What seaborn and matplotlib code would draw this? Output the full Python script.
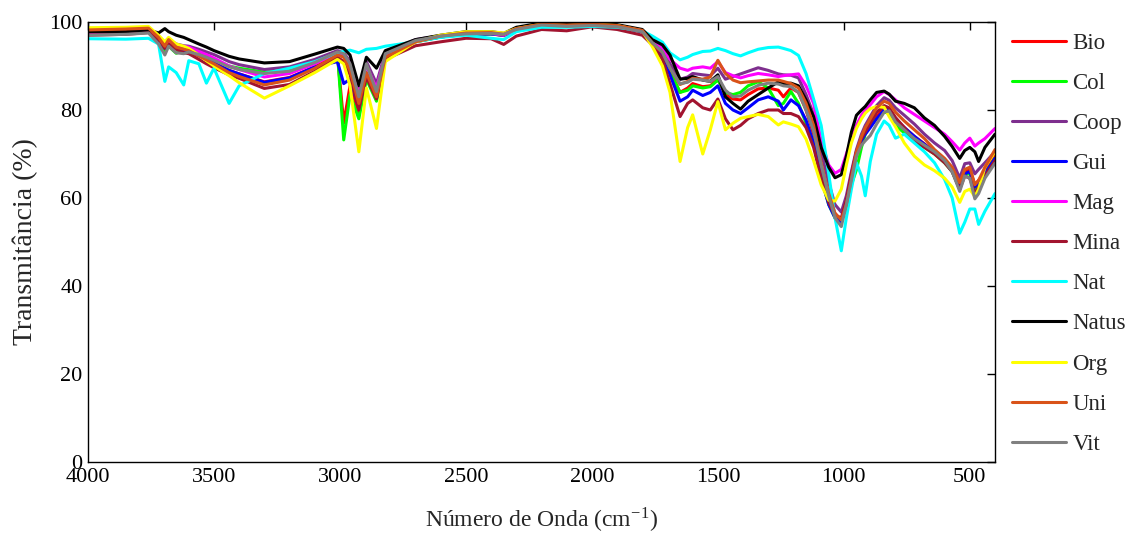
import pandas as pd
import numpy as np
import seaborn as sns
import matplotlib
matplotlib.use("Agg")
import matplotlib.pyplot as plt

# numero de onda (cm-1), comum a todas as amostras
numero_onda = [4000, 3850, 3760, 3720, 3695, 3680, 3650, 3620, 3600, 3560,
               3530, 3500, 3440, 3400, 3300, 3200, 3100, 3010, 2985, 2960,
               2925, 2895, 2855, 2820, 2700, 2600, 2500, 2400, 2350, 2300,
               2200, 2100, 2000, 1900, 1800, 1760, 1720, 1690, 1650, 1620,
               1600, 1560, 1530, 1500, 1470, 1440, 1410, 1380, 1340, 1300,
               1260, 1240, 1210, 1180, 1150, 1120, 1090, 1060, 1035, 1010,
               990, 970, 950, 930, 915, 895, 870, 840, 820, 795,
               760, 720, 680, 640, 600, 570, 540, 520, 500, 480,
               465, 440, 400]

bio = [97.6, 97.6, 98.0, 96.3, 94.0, 95.5, 94.2, 93.8, 93.6, 92.5,
       91.6, 90.7, 89.0, 88.2, 86.4, 87.4, 89.8, 92.5, 77.0, 85.5,
       79.5, 88.0, 82.5, 92.0, 95.5, 96.6, 97.2, 97.3, 96.9, 98.2,
       99.2, 99.0, 99.2, 98.9, 97.8, 95.0, 92.5, 88.5, 84.0, 85.0,
       86.0, 85.3, 85.5, 87.0, 83.5, 82.5, 82.3, 83.5, 84.8, 85.0,
       84.5, 83.0, 85.0, 84.0, 80.0, 74.5, 66.5, 60.0, 56.5, 55.0,
       59.0, 65.0, 70.5, 73.5, 75.0, 76.5, 78.5, 80.5, 80.3, 78.0,
       76.0, 74.0, 72.3, 70.5, 68.5, 66.5, 63.0, 66.0, 66.5, 63.0,
       64.0, 66.0, 69.5]

col = [97.6, 97.6, 98.0, 95.8, 93.5, 94.5, 92.9, 93.5, 93.8, 93.0,
       92.3, 91.5, 90.0, 89.5, 88.6, 89.0, 90.8, 93.0, 73.2, 83.5,
       78.0, 87.0, 82.0, 92.0, 95.5, 96.6, 97.2, 97.3, 97.0, 98.2,
       99.2, 99.0, 99.2, 98.9, 97.8, 95.0, 92.8, 89.0, 84.0, 84.5,
       85.5, 85.0, 85.3, 86.8, 84.0, 83.5, 84.0, 85.5, 86.4, 85.0,
       81.0, 81.5, 84.2, 81.5, 77.0, 72.5, 64.5, 58.5, 55.5, 55.0,
       58.0, 63.0, 66.4, 71.5, 74.5, 76.5, 78.0, 79.5, 79.3, 76.5,
       74.8, 73.0, 71.5, 70.0, 68.0, 66.0, 62.0, 65.5, 65.5, 61.5,
       63.0, 65.5, 69.0]

coop = [97.8, 97.8, 98.2, 96.8, 94.5, 96.0, 95.0, 94.6, 94.5, 93.8,
        93.2, 92.6, 91.0, 90.3, 89.2, 89.8, 91.5, 93.5, 93.0, 91.0,
        84.5, 91.0, 86.0, 93.0, 96.0, 96.9, 97.5, 97.5, 97.2, 98.5,
        99.5, 99.2, 99.4, 99.1, 98.1, 95.5, 93.5, 90.5, 87.0, 87.5,
        88.3, 88.0, 87.8, 89.5, 87.0, 87.6, 88.2, 88.8, 89.6, 89.0,
        88.2, 88.0, 87.9, 87.3, 83.5, 79.0, 70.5, 63.5, 58.5, 56.8,
        60.5, 66.0, 71.0, 74.5, 76.5, 78.5, 81.0, 82.8, 82.2, 80.5,
        78.8, 76.8, 74.5, 72.5, 70.8, 68.5, 64.5, 67.8, 68.0, 65.5,
        66.5, 68.0, 70.5]

gui = [97.6, 97.6, 98.0, 96.0, 94.0, 95.0, 94.0, 93.5, 93.3, 92.3,
       91.5, 90.6, 89.0, 88.2, 86.3, 87.3, 89.8, 91.0, 86.0, 87.0,
       80.5, 88.5, 83.0, 92.3, 95.6, 96.6, 97.2, 97.3, 97.0, 98.2,
       99.2, 99.0, 99.2, 98.9, 97.8, 95.0, 92.5, 88.0, 82.0, 83.0,
       84.5, 83.3, 84.0, 85.5, 81.5, 80.0, 79.2, 80.5, 82.3, 83.0,
       82.0, 80.0, 82.3, 81.0, 77.7, 72.5, 64.5, 58.5, 55.5, 54.5,
       58.5, 64.5, 70.0, 73.0, 74.5, 76.0, 78.0, 80.0, 80.0, 77.8,
       76.0, 74.0, 72.2, 70.3, 68.3, 66.0, 62.5, 65.5, 66.0, 62.5,
       63.5, 65.5, 69.0]

mag = [97.5, 97.6, 98.0, 96.5, 95.0, 95.8, 94.5, 94.5, 94.3, 93.3,
       92.6, 91.8, 90.0, 89.2, 87.5, 88.3, 90.5, 93.0, 92.5, 90.5,
       84.0, 90.0, 85.0, 92.5, 95.8, 96.8, 97.3, 97.4, 97.0, 98.3,
       99.3, 99.0, 99.3, 99.0, 98.0, 95.8, 94.0, 91.5, 89.5, 89.0,
       89.5, 89.8, 89.5, 91.0, 88.5, 87.8, 87.3, 87.8, 88.3, 88.0,
       87.6, 87.8, 88.0, 88.2, 85.5, 81.5, 73.0, 67.5, 65.6, 66.5,
       70.0, 73.5, 76.5, 78.8, 80.0, 81.2, 83.0, 84.2, 83.5, 82.3,
       80.5, 79.0, 77.5, 76.0, 74.5, 72.8, 70.9, 72.5, 73.6, 71.8,
       72.5, 73.5, 75.8]

mina = [97.0, 97.2, 97.6, 96.0, 94.0, 95.0, 93.8, 93.0, 92.8, 91.5,
        90.5, 89.6, 88.0, 87.2, 84.9, 85.8, 88.8, 92.0, 91.0, 88.0,
        80.0, 87.5, 82.5, 91.5, 94.6, 95.5, 96.3, 96.2, 94.9, 96.8,
        98.3, 98.0, 98.9, 98.3, 97.0, 94.8, 91.5, 86.0, 78.5, 81.5,
        82.3, 80.5, 80.0, 82.5, 78.0, 75.5, 76.5, 78.0, 79.2, 80.0,
        80.0, 79.2, 79.2, 78.5, 76.0, 71.5, 64.5, 59.0, 56.0, 55.5,
        59.5, 65.5, 70.5, 73.5, 75.0, 77.0, 79.5, 81.0, 80.5, 78.3,
        76.0, 73.0, 71.5, 70.0, 68.0, 66.0, 62.0, 65.0, 64.5, 61.0,
        62.5, 65.0, 68.5]

nat = [96.2, 96.1, 96.3, 95.0, 86.5, 89.8, 88.5, 85.7, 91.2, 90.5,
       86.1, 89.5, 81.5, 85.5, 88.3, 89.5, 91.0, 93.0, 93.3, 93.6,
       93.0, 93.8, 94.0, 94.5, 95.5, 96.5, 97.0, 96.3, 96.0, 97.8,
       98.8, 98.8, 99.0, 98.8, 98.0, 96.8, 95.4, 93.0, 91.4, 92.0,
       92.6, 93.3, 93.4, 94.0, 93.5, 92.8, 92.3, 93.0, 93.8, 94.2,
       94.3, 94.0, 93.5, 92.4, 88.3, 82.5, 76.5, 65.5, 55.5, 48.0,
       55.5, 62.0, 68.0, 65.0, 60.5, 68.3, 74.5, 77.5, 76.5, 73.6,
       74.5, 72.5, 70.5, 68.0, 64.2, 60.0, 52.0, 54.5, 57.5, 57.5,
       54.0, 57.0, 61.0]

natus = [97.8, 97.8, 98.2, 97.5, 98.5, 97.8, 97.0, 96.5, 96.0, 95.0,
         94.3, 93.5, 92.2, 91.6, 90.7, 91.0, 92.7, 94.3, 94.0, 92.5,
         85.5, 92.0, 89.5, 93.5, 96.0, 97.0, 97.8, 97.8, 97.4, 98.8,
         99.8, 99.6, 99.7, 99.4, 98.3, 96.0, 94.8, 92.5, 87.0, 87.2,
         87.6, 86.8, 86.5, 88.0, 83.0, 81.5, 80.2, 82.0, 83.5, 85.0,
         86.4, 86.0, 86.1, 85.5, 82.3, 78.5, 71.5, 67.0, 64.6, 65.3,
         69.5, 75.0, 78.8, 80.0, 80.8, 82.3, 84.0, 84.3, 83.6, 82.0,
         81.5, 80.5, 78.2, 76.5, 74.0, 71.7, 69.0, 70.8, 71.5, 70.5,
         68.3, 71.5, 74.5]

org = [98.7, 98.8, 99.0, 97.0, 95.5, 96.5, 95.0, 94.5, 94.0, 92.5,
       91.2, 90.0, 87.8, 86.2, 82.7, 85.5, 88.5, 91.5, 90.5, 85.5,
       70.5, 85.0, 75.8, 91.0, 95.5, 97.0, 97.8, 97.8, 97.5, 98.5,
       99.5, 99.2, 99.5, 99.2, 98.0, 94.4, 90.0, 84.0, 68.3, 76.0,
       78.9, 70.0, 75.5, 81.9, 75.5, 77.0, 78.1, 78.5, 79.0, 78.5,
       76.6, 77.3, 76.8, 76.2, 73.4, 68.5, 63.0, 59.5, 59.3, 62.0,
       67.5, 72.5, 75.8, 78.0, 79.3, 80.3, 80.8, 80.6, 78.5, 76.2,
       72.5, 69.5, 67.5, 66.2, 64.5, 62.5, 59.0, 61.5, 62.0, 60.3,
       62.0, 67.0, 70.5]

uni = [98.2, 98.4, 98.6, 96.5, 94.5, 96.0, 94.3, 93.8, 93.5, 92.3,
       91.4, 90.5, 88.5, 87.6, 85.7, 86.8, 89.5, 92.5, 92.0, 89.0,
       81.5, 88.5, 83.0, 92.0, 95.5, 96.8, 97.5, 97.6, 97.2, 98.5,
       99.5, 99.3, 99.5, 99.2, 98.1, 95.2, 93.0, 89.5, 85.8, 86.5,
       87.2, 87.0, 87.5, 91.3, 88.3, 86.8, 86.2, 86.4, 86.6, 86.8,
       86.8, 86.5, 86.0, 85.0, 81.5, 76.5, 68.0, 61.0, 56.5, 55.0,
       58.5, 64.5, 70.5, 74.0, 76.0, 78.0, 80.5, 82.0, 81.5, 79.5,
       77.5, 75.5, 73.5, 71.0, 69.0, 67.0, 63.5, 66.5, 67.0, 63.0,
       64.0, 67.0, 71.0]

vit = [97.0, 97.2, 97.5, 95.0, 92.5, 94.5, 93.0, 92.8, 93.2, 92.6,
       92.0, 91.3, 89.8, 89.2, 88.3, 88.8, 90.8, 93.2, 92.8, 90.5,
       83.0, 90.5, 84.2, 92.8, 95.8, 96.8, 97.3, 97.4, 97.2, 98.3,
       99.3, 99.0, 99.2, 98.9, 97.8, 95.3, 93.2, 89.5, 86.0, 86.3,
       87.0, 86.8, 86.5, 87.6, 84.5, 83.0, 83.2, 84.5, 85.6, 86.1,
       85.9, 85.5, 85.3, 84.0, 80.0, 75.2, 67.5, 60.5, 55.5, 53.5,
       58.5, 64.0, 69.5, 72.0, 73.0, 74.2, 76.8, 79.5, 79.8, 77.3,
       75.5, 73.5, 72.0, 70.5, 68.5, 66.0, 61.5, 65.0, 64.5, 59.8,
       61.0, 64.5, 67.9]

amostras = ['Bio', 'Col', 'Coop', 'Gui', 'Mag', 'Mina', 'Nat', 'Natus', 'Org', 'Uni', 'Vit']
valores = [bio, col, coop, gui, mag, mina, nat, natus, org, uni, vit]
cores = ['#ff0000', '#00ff00', '#7e2f8e', '#0000ff', '#ff00ff', '#a2142f',
         '#00ffff', '#000000', '#ffff00', '#d95319', '#808080']

df = pd.concat([pd.DataFrame({'onda': numero_onda, 'T': v, 'amostra': a})
                for a, v in zip(amostras, valores)], ignore_index=True)

sns.set_theme(style='white')
plt.rcParams['font.family'] = ['Liberation Serif', 'DejaVu Serif']
plt.rcParams['mathtext.fontset'] = 'stix'

fig = plt.figure(figsize=(11.35, 5.34), dpi=100)
ax = fig.add_axes([88 / 1135, 1 - 462 / 534, 907 / 1135, 440 / 534])

sns.lineplot(data=df, x='onda', y='T', hue='amostra', hue_order=amostras,
             palette=dict(zip(amostras, cores)), estimator=None, sort=True,
             linewidth=2.2, ax=ax)

ax.set_xlim(4000, 400)
ax.set_ylim(0, 100)
ax.set_xticks([4000, 3500, 3000, 2500, 2000, 1500, 1000, 500])
ax.set_yticks([0, 20, 40, 60, 80, 100])
ax.tick_params(direction='in', top=True, right=True, length=6, width=1,
               labelsize=16, colors='black', pad=4)
for s in ax.spines.values():
    s.set_color('black')
    s.set_linewidth(1)
ax.set_xlabel('Número de Onda (cm$^{\\mathregular{-1}}$)', fontsize=17, labelpad=14)
ax.set_ylabel('Transmitância (%)', fontsize=20, labelpad=8)

ax.legend(loc='upper left', bbox_to_anchor=(1012 / 1135, 1 - 33 / 534),
          bbox_transform=fig.transFigure, frameon=False, fontsize=16.5,
          handlelength=2.36, handletextpad=0.28, labelspacing=0.83,
          borderpad=0, borderaxespad=0)

fig.savefig('out.png', dpi=100)
